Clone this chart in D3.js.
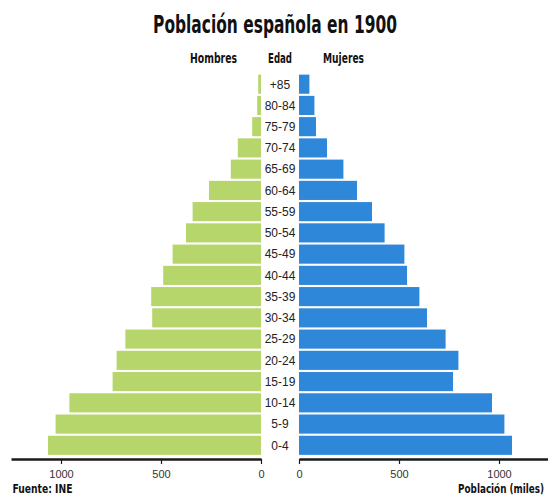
<!DOCTYPE html>
<html>
<head>
<meta charset="utf-8">
<script src="https://cdn.jsdelivr.net/npm/d3@7"></script>
<style>
  body { margin: 0; background: #fff; }
  svg { display: block; }
  .cond { font-family: "Liberation Sans Narrow", "DejaVu Sans Condensed", "Liberation Sans", sans-serif; font-weight: bold; fill: #111; }
  .edad { font-family: "Liberation Sans", Arial, sans-serif; font-size: 12px; fill: #222; }
  .axis text { font-family: "Liberation Sans", Arial, sans-serif; font-size: 11px; fill: #333; }
</style>
</head>
<body>
<script>
// grupos de edad (de mayor a menor, como en la pirámide)
var edades = ["+85", "80-84", "75-79", "70-74", "65-69", "60-64", "55-59", "50-54", "45-49",
              "40-44", "35-39", "30-34", "25-29", "20-24", "15-19", "10-14", "5-9", "0-4"];
// población en miles
var hombres = [14, 19, 44, 116, 151, 260, 342, 375, 442,
               489, 549, 544, 678, 722, 742, 958, 1027, 1065];
var mujeres = [52, 77, 85, 140, 222, 290, 365, 428, 527,
               540, 602, 640, 733, 797, 770, 965, 1027, 1065];
var ticks = [0, 500, 1000];

var w = 548;
var h = 498;

var svg = d3.select("body")
            .append("svg")
            .attr("width", w)
            .attr("height", h);

var verde = "#b6d56b";
var azul = "#2e87d8";

// escalas
var xLeft = d3.scaleLinear().domain([0, 1250]).range([261, 11]);
var xRight = d3.scaleLinear().domain([0, 1250]).range([299, 549]);
var y = d3.scaleBand().domain(edades).range([72.5, 457]).padding(0.1);

// texto condensado: se escala en horizontal hasta el ancho deseado
function textoCond(txt, x, yy, size, ancho, anchor) {
  var t = svg.append("text")
     .attr("class", "cond")
     .attr("font-size", size)
     .attr("text-anchor", anchor)
     .text(txt);
  var natural = t.node().getComputedTextLength();
  var sx = natural > 0 ? ancho / natural : 1;
  t.attr("transform", "translate(" + x + "," + yy + ") scale(" + sx + ",1)");
  return t;
}

// título
textoCond("Población española en 1900", 275, 33, 25, 244, "middle");

// cabeceras
textoCond("Hombres", 213.5, 63, 14, 47, "middle");
textoCond("Edad", 280, 63, 14, 24, "middle");
textoCond("Mujeres", 343.5, 63, 14, 41, "middle");

// barras hombres
svg.selectAll("rect.h")
   .data(hombres)
   .enter()
   .append("rect")
   .attr("class", "h")
   .attr("x", function(d) { return xLeft(d); })
   .attr("y", function(d, i) { return y(edades[i]); })
   .attr("width", function(d) { return xLeft(0) - xLeft(d); })
   .attr("height", y.bandwidth())
   .style("fill", verde);

// barras mujeres
svg.selectAll("rect.m")
   .data(mujeres)
   .enter()
   .append("rect")
   .attr("class", "m")
   .attr("x", xRight(0))
   .attr("y", function(d, i) { return y(edades[i]); })
   .attr("width", function(d) { return xRight(d) - xRight(0); })
   .attr("height", y.bandwidth())
   .style("fill", azul);

// etiquetas de edad
svg.selectAll("text.edad")
   .data(edades)
   .enter()
   .append("text")
   .attr("class", "edad")
   .attr("x", 280)
   .attr("y", function(d) { return y(d) + y.bandwidth() / 2; })
   .attr("dy", "0.36em")
   .attr("text-anchor", "middle")
   .text(function(d) { return d; });

// ejes
function estiloEje(g) {
  g.select(".domain").attr("stroke", "#1a1a1a").attr("stroke-width", 2.5);
  g.selectAll(".tick line").attr("stroke", "#1a1a1a").attr("stroke-width", 1.2);
}

svg.append("g")
   .attr("class", "axis")
   .attr("transform", "translate(0,459)")
   .call(d3.axisBottom(xLeft).tickValues(ticks).tickFormat(d3.format("d"))
           .tickSize(5).tickSizeOuter(0).tickPadding(6))
   .call(estiloEje);

svg.append("g")
   .attr("class", "axis")
   .attr("transform", "translate(0,459)")
   .call(d3.axisBottom(xRight).tickValues(ticks).tickFormat(d3.format("d"))
           .tickSize(5).tickSizeOuter(0).tickPadding(6))
   .call(estiloEje);

// pie
textoCond("Fuente: INE", 12.5, 493, 13, 60, "start");
textoCond("Población (miles)", 544, 493, 13, 86, "end");
</script>
</body>
</html>
